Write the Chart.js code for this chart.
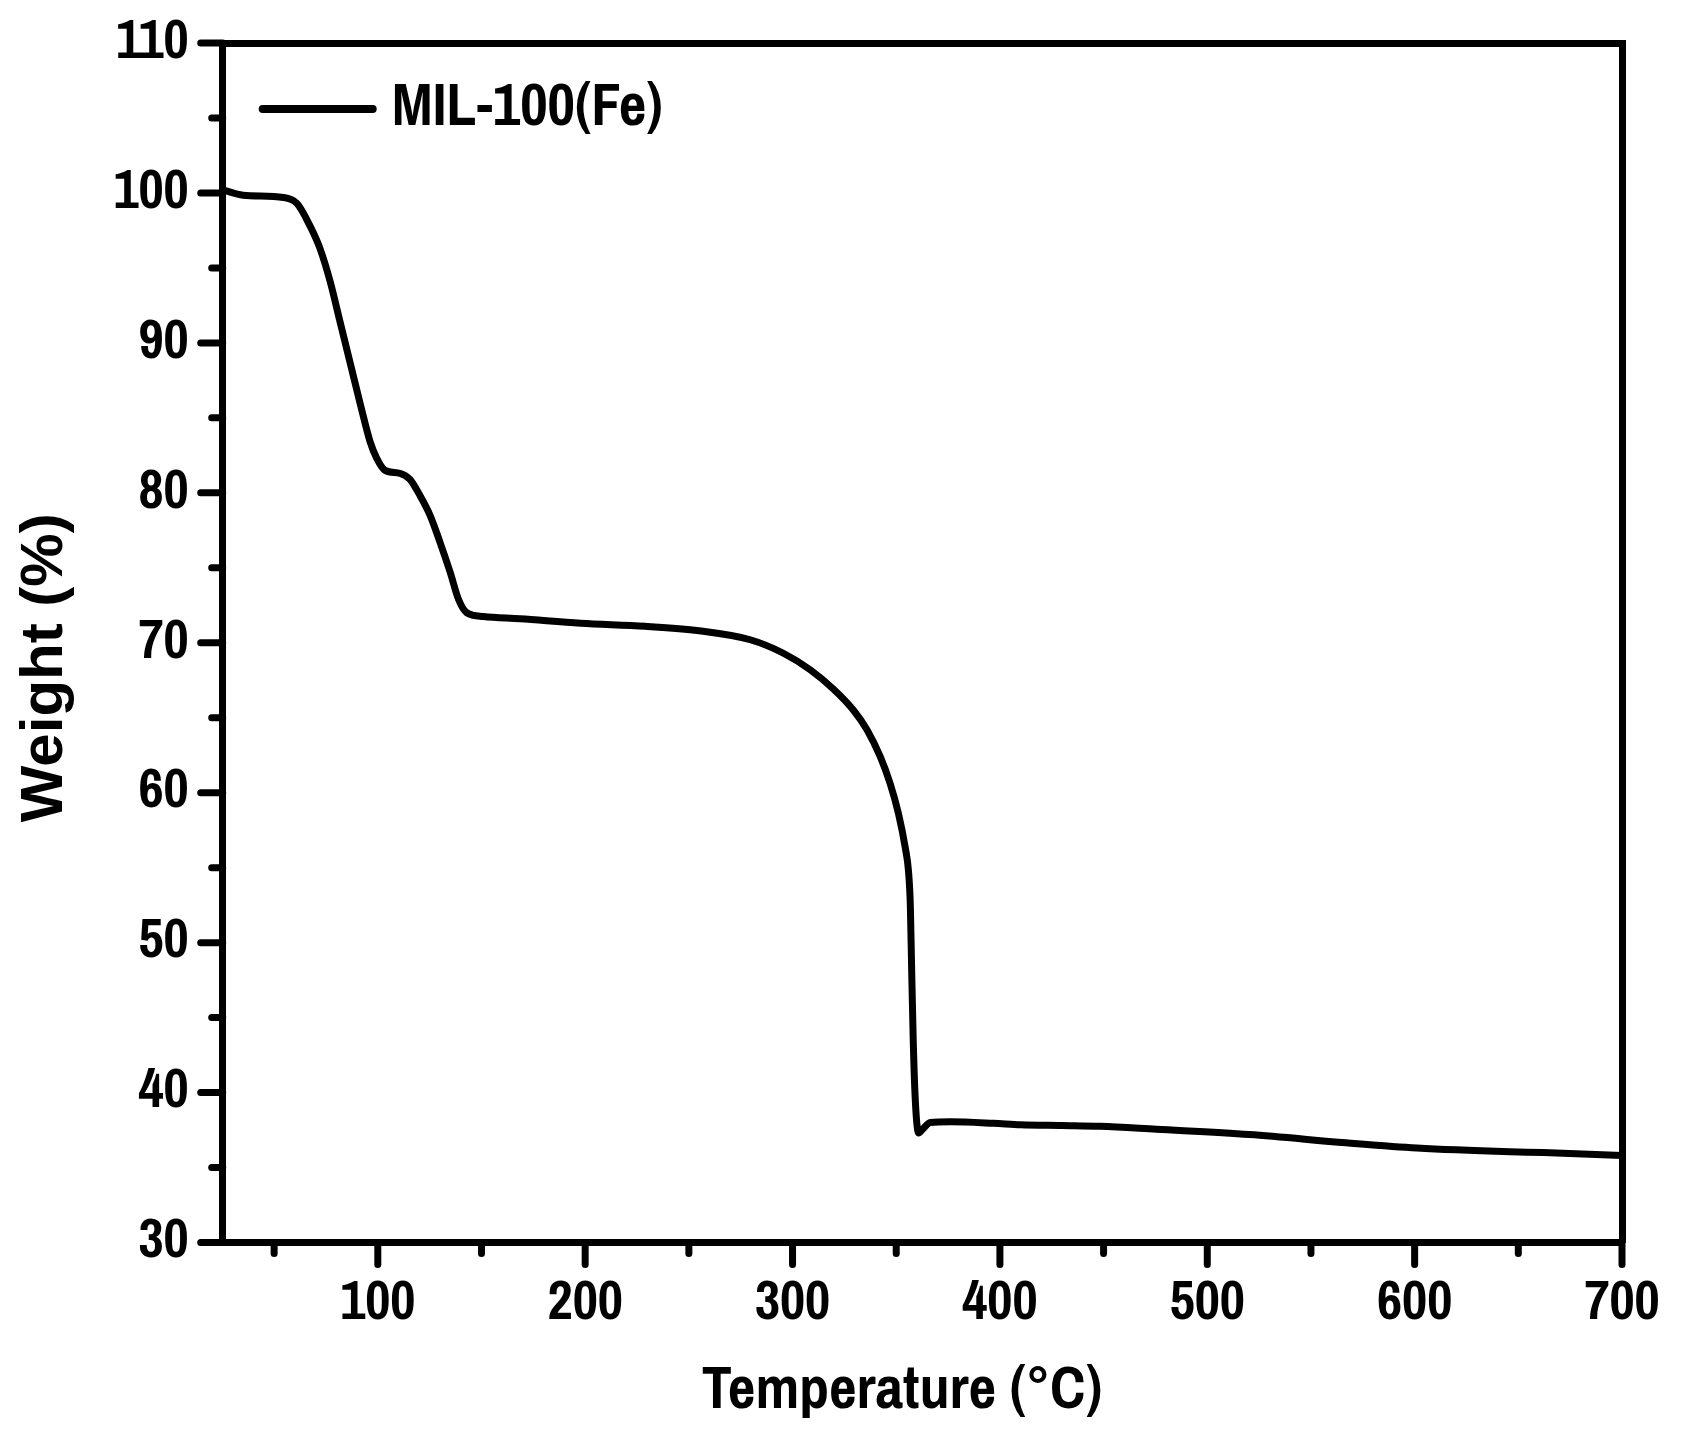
<!DOCTYPE html>
<html>
<head>
<meta charset="utf-8">
<script src="https://cdn.jsdelivr.net/npm/chart.js@4.4.1/dist/chart.umd.min.js"></script>
<style>
  html, body { margin: 0; padding: 0; background: #fff; }
  #wrap { width: 1684px; height: 1436px; }
</style>
</head>
<body>
<div id="wrap"><canvas id="tga" width="1684" height="1436"></canvas></div>
<script>
// TGA curve of MIL-100(Fe)
const temperature = [
  25.2, 35, 54.5, 61, 67.3, 72.1, 77, 81.8, 86.6, 91.4, 96.3, 99.5, 103.5,
  110.7, 115.5, 120.4, 125.2, 130, 134.9, 138.9, 142.9, 150.9, 168.6, 197.8,
  228.9, 254.9, 279.6, 295.6, 308.5, 319.8, 329.4, 335.9, 342.3, 347.1, 351.1,
  354.4, 355.9, 356.8, 357.4, 358.2, 359.2, 360.8, 363, 366.4, 376, 396.9,
  410, 430, 448.4, 475.4, 520.3, 566.9, 601.1, 646, 662, 700
];
const weight = [
  100.2, 99.85, 99.7, 99.3, 97.8, 96.3, 94.1, 91.4, 88.7, 86.0, 83.4, 82.3, 81.5,
  81.3, 80.9, 79.8, 78.5, 76.7, 74.7, 72.9, 72.0, 71.75, 71.6, 71.3,
  71.1, 70.8, 70.2, 69.3, 68.2, 66.9, 65.5, 64.2, 62.4, 60.6, 58.6,
  56.3, 54.8, 52.5, 48.5, 43.5, 39.5, 37.3, 37.6, 38.0, 38.05, 37.95,
  37.85, 37.8, 37.75, 37.55, 37.2, 36.65, 36.3, 36.05, 36.0, 35.8
];
const seriesLabel = 'MIL-100(Fe)';

const xMajorTicks = [100, 200, 300, 400, 500, 600, 700];
const xMinorTicks = [50, 150, 250, 350, 450, 550, 650];
const yMajorTicks = [30, 40, 50, 60, 70, 80, 90, 100, 110];
const yMinorTicks = [35, 45, 55, 65, 75, 85, 95, 105];

const narrow = "'Archivo Narrow', 'Roboto Condensed', 'Liberation Sans', Arial, sans-serif";
const wide = "'Liberation Sans', Arial, sans-serif";
const ink = '#000';

// outward tick marks with round caps, placed through the scales
const axisTicks = {
  id: 'axisTicks',
  afterDraw(chart) {
    const { ctx, chartArea, scales } = chart;
    const { x, y } = scales;
    ctx.save();
    ctx.strokeStyle = ink;
    ctx.lineWidth = 7;
    ctx.lineCap = 'round';
    const mark = (x1, y1, x2, y2) => {
      ctx.beginPath();
      ctx.moveTo(x1, y1);
      ctx.lineTo(x2, y2);
      ctx.stroke();
    };
    xMajorTicks.forEach((v) => {
      const px = x.getPixelForValue(v);
      mark(px, chartArea.bottom, px, chartArea.bottom + 22);
    });
    xMinorTicks.forEach((v) => {
      const px = x.getPixelForValue(v);
      mark(px, chartArea.bottom, px, chartArea.bottom + 11);
    });
    yMajorTicks.forEach((v) => {
      const py = y.getPixelForValue(v);
      mark(chartArea.left, py, chartArea.left - 22, py);
    });
    yMinorTicks.forEach((v) => {
      const py = y.getPixelForValue(v);
      mark(chartArea.left, py, chartArea.left - 11, py);
    });
    ctx.restore();
  },
};

// legend sitting inside the plot, top-left
const innerLegend = {
  id: 'innerLegend',
  afterDraw(chart) {
    const { ctx, chartArea } = chart;
    const ds = chart.data.datasets[0];
    const yMid = chartArea.top + 66;
    ctx.save();
    ctx.strokeStyle = ds.borderColor;
    ctx.lineWidth = 8;
    ctx.lineCap = 'round';
    ctx.beginPath();
    ctx.moveTo(chartArea.left + 40, yMid);
    ctx.lineTo(chartArea.left + 150, yMid);
    ctx.stroke();
    ctx.fillStyle = ink;
    ctx.font = `bold 60px ${narrow}`;
    ctx.textBaseline = 'middle';
    ctx.textAlign = 'left';
    ctx.fillText(ds.label, chartArea.left + 169, yMid);
    ctx.restore();
  },
};

const hideTick = { display: false };

new Chart(document.getElementById('tga'), {
  type: 'line',
  data: {
    datasets: [{
      label: seriesLabel,
      data: temperature.map((t, i) => ({ x: t, y: weight[i] })),
      borderColor: ink,
      borderWidth: 7,
      pointRadius: 0,
      fill: false,
      cubicInterpolationMode: 'monotone',
      borderJoinStyle: 'round',
      borderCapStyle: 'round',
    }],
  },
  options: {
    responsive: false,
    devicePixelRatio: 1,
    animation: false,
    layout: { padding: { top: 43, right: 62, bottom: 0, left: 0 } },
    plugins: {
      legend: { display: false },
      tooltip: { enabled: false },
    },
    scales: {
      x: {
        type: 'linear',
        position: 'bottom',
        min: 25.2,
        max: 700,
        afterFit(scale) { scale.height = 193.5; },
        border: { display: true, color: ink, width: 7 },
        grid: { drawOnChartArea: false, drawTicks: true, tickLength: 25, tickColor: 'rgba(0,0,0,0)' },
        ticks: {
          stepSize: 50,
          autoSkip: false,
          maxRotation: 0,
          padding: 4,
          color: ink,
          font: { family: narrow, size: 55, weight: 'bold' },
          callback: (v) => (xMajorTicks.includes(v) ? String(v) : ''),
        },
        title: {
          display: true,
          // trailing spaces pull the centred title a little left, as in the original
          text: 'Temperature (°C)   ',
          color: ink,
          padding: { top: 0, bottom: 8 },
          font: { family: narrow, size: 60, weight: 'bold', lineHeight: 1.2 },
        },
      },
      y: {
        type: 'linear',
        position: 'left',
        min: 30,
        max: 110,
        afterFit(scale) { scale.width = 222.7; },
        border: { display: true, color: ink, width: 7 },
        grid: { drawOnChartArea: false, drawTicks: true, tickLength: 25, tickColor: 'rgba(0,0,0,0)' },
        ticks: {
          stepSize: 5,
          autoSkip: false,
          padding: 9,
          color: ink,
          font: { family: narrow, size: 55, weight: 'bold' },
          callback: (v) => (yMajorTicks.includes(v) ? String(v) : ''),
        },
        title: {
          display: true,
          // trailing spaces nudge the rotated title down, as in the original
          text: 'Weight (%)   ',
          color: ink,
          padding: { top: 9, bottom: 0 },
          font: { family: wide, size: 60, weight: 'bold', lineHeight: 1.2 },
        },
      },
      xTop: {
        type: 'linear',
        position: 'top',
        min: 25.2,
        max: 700,
        afterFit(scale) { scale.height = 0; },
        border: { display: true, color: ink, width: 7 },
        grid: { drawOnChartArea: false, drawTicks: false },
        ticks: hideTick,
      },
      yRight: {
        type: 'linear',
        position: 'right',
        min: 30,
        max: 110,
        afterFit(scale) { scale.width = 0; },
        border: { display: true, color: ink, width: 7 },
        grid: { drawOnChartArea: false, drawTicks: false },
        ticks: hideTick,
      },
    },
  },
  plugins: [axisTicks, innerLegend],
});
</script>
</body>
</html>
